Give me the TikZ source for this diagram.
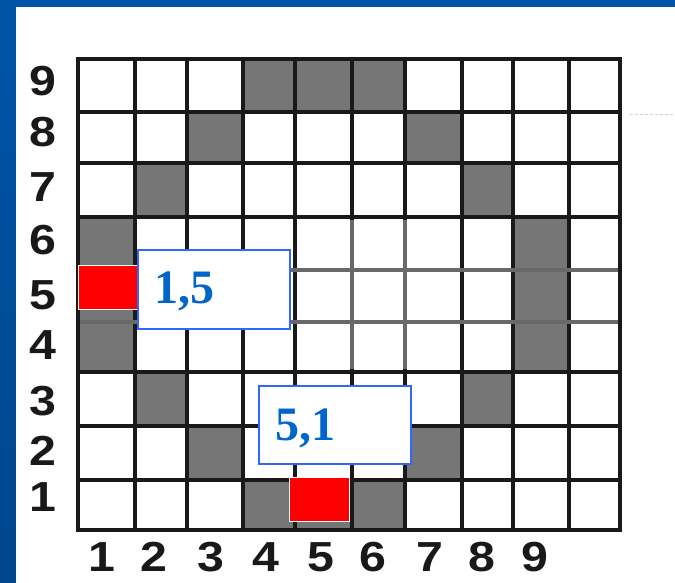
\documentclass[tikz,border=0pt]{standalone}
\usepackage{fontspec}
\setmainfont{Liberation Serif}
\newfontfamily\lblfont[FakeStretch=1.15]{Liberation Sans}
\definecolor{bgblue}{RGB}{0,84,168}
\definecolor{bgbluedark}{RGB}{0,70,140}
\definecolor{cellgray}{RGB}{118,118,118}
\definecolor{linegray}{RGB}{105,105,105}
\definecolor{boxblue}{RGB}{51,102,255}
\definecolor{txtblue}{RGB}{0,102,204}
\tikzset{
  gridline/.style={line width=3.2pt, black!90, line cap=rect},
  softline/.style={line width=3.2pt, linegray},
  graycell/.style={fill=cellgray},
  axislbl/.style={font=\lblfont\bfseries\fontsize{42}{42}\selectfont, inner sep=0pt, text=black!90},
  redsq/.style={fill=red, draw=white, line width=1pt},
  labelbox/.style={fill=white, draw=boxblue, line width=1.5pt},
  coordtxt/.style={font=\bfseries\fontsize{48}{48}\selectfont, text=txtblue, inner sep=0pt, anchor=base west},
  faint/.style={gray!35, line width=1pt, dash pattern=on 3pt off 2pt}
}
\begin{document}
\begin{tikzpicture}[x=1pt,y=-1pt]
\useasboundingbox (0,0) rectangle (675,583);
% frame
\fill[bgblue] (0,0) rectangle (675,583);
\shade[top color=bgblue, bottom color=bgbluedark] (0,7) rectangle (16,583);
\fill[white] (16,7) rectangle (675,583);
% gray cells
\foreach \c/\r in {4/9,5/9,6/9,3/8,7/8,2/7,8/7,1/6,9/6,1/5,9/5,1/4,9/4,2/3,8/3,3/2,7/2,4/1,5/1,6/1}{
  \pgfmathsetmacro\xa{{78,135,187,243,295,352,405,462,513,569,620}[\c-1]}
  \pgfmathsetmacro\xb{{78,135,187,243,295,352,405,462,513,569,620}[\c]}
  \pgfmathsetmacro\ya{{59,112,163,217,270,322,372,426,480,530}[9-\r]}
  \pgfmathsetmacro\yb{{59,112,163,217,270,322,372,426,480,530}[10-\r]}
  \fill[graycell] (\xa,\ya) rectangle (\xb,\yb);
}
% grid lines
\foreach \x in {78,135,187,243,295,352,405,462,513,569,620}
  \draw[gridline] (\x,59) -- (\x,530);
\foreach \y in {59,112,163,217,270,322,372,426,480,530}
  \draw[gridline] (78,\y) -- (620,\y);
% lighter scanned line segments
\draw[softline] (80,270) -- (618,270);
\draw[softline] (80,322) -- (618,322);
\draw[softline] (352,220) -- (352,369);
\draw[softline] (405,220) -- (405,369);
% faint scan mark
\draw[faint] (630,115) -- (675,115);
% row labels
\foreach \y [count=\i] in {497,451,401,345,295,240,187,132,81}
  \node[axislbl] (row\i) at (43,\y) {\i};
% column labels
\foreach \x [count=\i] in {102,154,211,266,321,373,430,482,535}
  \node[axislbl] (col\i) at (\x,557) {\i};
% highlighted squares
\node[redsq, minimum width=59pt, minimum height=44pt] (p15) at (107.5,287) {};
\node[redsq, minimum width=60pt, minimum height=44pt] (p51) at (319,499) {};
% label boxes
\node[labelbox, anchor=north west, minimum width=152pt, minimum height=79pt] (b15) at (137,249) {};
\node[coordtxt] (t15) at (154,303) {1,5};
\node[labelbox, anchor=north west, minimum width=152pt, minimum height=78pt] (b51) at (258,385) {};
\node[coordtxt] (t51) at (275,440) {5,1};
\end{tikzpicture}
\end{document}
